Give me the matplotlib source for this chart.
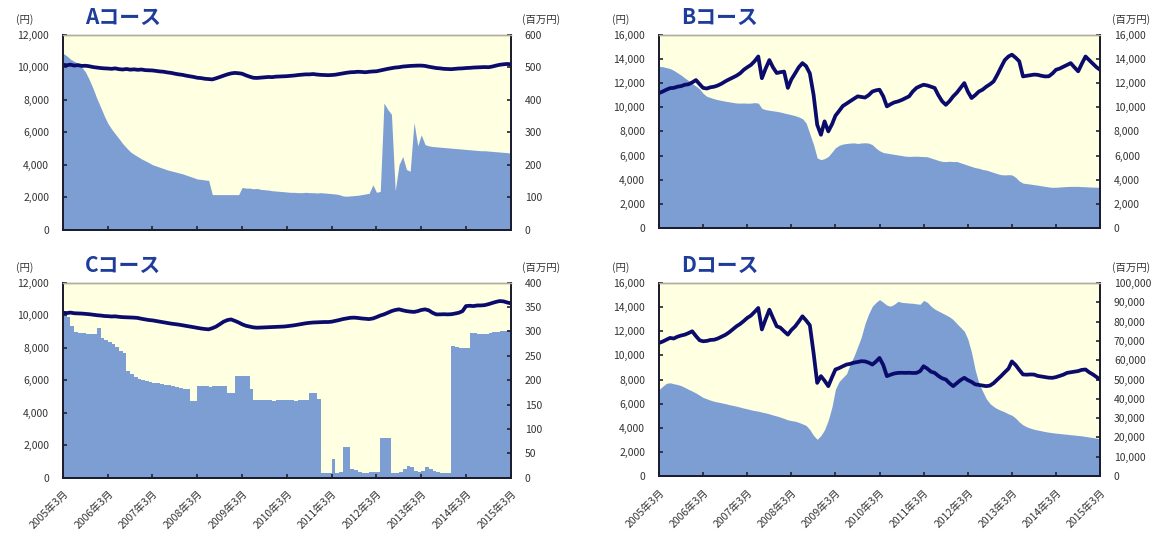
import matplotlib.pyplot as plt
import pandas as pd

plt.rcParams['font.family'] = ['Noto Sans CJK JP', 'DejaVu Sans']

# 月次データ 2005年3月〜2015年3月
dates = pd.date_range('2005-03-01', periods=121, freq='MS')
tick_years = list(range(2005, 2016))
tick_labels = [f'{y}年3月' for y in tick_years]

# Aコース: 基準価額(円) / 純資産(百万円)
a_price = [10150, 10120, 10160, 10100, 10130, 10080, 10090, 10060, 10010, 9980, 9950, 9930,
           9920, 9900, 9930, 9880, 9860, 9890, 9850, 9870, 9840, 9860, 9820, 9810,
           9800, 9770, 9740, 9720, 9680, 9650, 9600, 9560, 9530, 9480, 9440, 9400,
           9350, 9330, 9290, 9270, 9250, 9320, 9400, 9480, 9560, 9620, 9650, 9630,
           9600, 9500, 9420, 9350, 9340, 9360, 9380, 9400, 9390, 9420, 9430, 9440,
           9450, 9470, 9490, 9520, 9540, 9560, 9560, 9580, 9550, 9530, 9520, 9510,
           9520, 9540, 9580, 9620, 9660, 9690, 9700, 9720, 9710, 9690, 9720, 9740,
           9750, 9800, 9850, 9900, 9940, 9980, 10000, 10040, 10060, 10080, 10090, 10100,
           10100, 10080, 10030, 9990, 9950, 9930, 9900, 9890, 9880, 9900, 9920, 9930,
           9950, 9960, 9980, 9990, 10000, 10010, 10000, 10040, 10100, 10150, 10180, 10200, 10180]
a_assets = [543, 535, 525, 518, 512, 500, 485, 462, 435, 405, 378, 350,
            328, 310, 295, 280, 265, 252, 240, 232, 225, 218, 212, 206,
            200, 196, 192, 188, 184, 181, 178, 175, 172, 168, 164, 160,
            156, 155, 153, 152, 108, 108, 108, 108, 108, 108, 108, 108,
            130, 128, 128, 126, 127, 124, 123, 122, 120, 119, 118, 117,
            116, 115, 115, 114, 114, 115, 114, 114, 113, 114, 113, 112,
            111, 110, 108, 104, 103, 104, 105, 106, 108, 110, 112, 138,
            115, 118, 390, 370, 355, 120, 200, 225, 185, 180, 330, 258,
            292, 262, 258, 256, 255, 254, 253, 252, 251, 250, 249, 248,
            247, 246, 245, 244, 243, 243, 242, 241, 240, 239, 238, 237, 236]

# Bコース
b_price = [11170, 11300, 11450, 11580, 11600, 11700, 11750, 11860, 11900, 12050, 12250, 11900,
           11600, 11550, 11650, 11700, 11800, 11950, 12140, 12300, 12450, 12600, 12800, 13100,
           13300, 13500, 13800, 14200, 12400, 13200, 13900, 13300, 12830, 12900, 12950, 11600,
           12300, 12800, 13300, 13650, 13400, 12800, 11030, 8550, 7720, 8830, 8000, 8600,
           9300, 9700, 10100, 10300, 10500, 10700, 10900, 10850, 10800, 11000, 11300, 11400,
           11450, 10900, 10070, 10250, 10400, 10480, 10600, 10750, 10900, 11300, 11600, 11750,
           11860, 11800, 11700, 11590, 11000, 10500, 10200, 10500, 10900, 11200, 11600, 12000,
           11300, 10760, 11000, 11300, 11450, 11700, 11900, 12140, 12700, 13300, 13900, 14200,
           14350, 14100, 13800, 12550, 12600, 12650, 12700, 12680, 12600, 12550, 12560, 12800,
           13100, 13200, 13350, 13500, 13650, 13300, 12970, 13600, 14200, 13900, 13600, 13300, 13100]
b_assets = [13380, 13350, 13280, 13200, 13050, 12850, 12650, 12420, 12200, 11950, 11750, 11500,
            11150, 10900, 10800, 10700, 10620, 10560, 10500, 10450, 10400, 10350, 10340, 10350,
            10330, 10340, 10380, 10340, 9900, 9800, 9750, 9700, 9660, 9600, 9520, 9450,
            9380, 9300, 9200, 9050, 8700, 7800, 6900, 5800, 5660, 5750, 5930, 6300,
            6650, 6850, 6950, 7000, 7030, 7050, 7000, 7040, 7060, 7030, 6900, 6600,
            6400, 6250, 6200, 6150, 6100, 6050, 6000, 5950, 5930, 5940, 5950, 5930,
            5920, 5900, 5800, 5700, 5600, 5520, 5500, 5530, 5500, 5510, 5400, 5300,
            5200, 5100, 5000, 4950, 4850, 4800, 4700, 4600, 4500, 4420, 4400, 4420,
            4400, 4200, 3900, 3720, 3680, 3640, 3590, 3550, 3500, 3450, 3400, 3370,
            3380, 3400, 3420, 3440, 3450, 3450, 3450, 3430, 3420, 3400, 3390, 3380, 3370]

# Cコース
c_price = [10150, 10130, 10160, 10120, 10110, 10100, 10080, 10060, 10030, 10000, 9980, 9950,
           9940, 9920, 9930, 9900, 9880, 9870, 9860, 9850, 9830, 9780, 9740, 9700,
           9680, 9640, 9600, 9560, 9520, 9480, 9450, 9420, 9380, 9340, 9300, 9260,
           9220, 9180, 9150, 9130, 9200, 9300, 9450, 9600, 9700, 9740, 9650, 9550,
           9440, 9350, 9300, 9250, 9230, 9240, 9250, 9260, 9270, 9280, 9290, 9300,
           9320, 9350, 9380, 9420, 9460, 9500, 9530, 9550, 9560, 9570, 9580, 9580,
           9600, 9650, 9700, 9760, 9800, 9840, 9850, 9830, 9800, 9780, 9760, 9800,
           9880, 9980, 10050, 10150, 10250, 10320, 10360, 10300, 10250, 10220, 10200, 10250,
           10320, 10360, 10300, 10150, 10050, 10050, 10060, 10050, 10060, 10100, 10150, 10250,
           10560, 10580, 10560, 10600, 10600, 10620, 10680, 10750, 10820, 10870, 10850, 10780, 10730]
c_assets = [338, 330, 312, 298, 297, 296, 295, 294, 294, 308, 287, 283,
            279, 275, 268, 260, 256, 219, 212, 206, 202, 200, 198, 196,
            195, 194, 193, 191, 190, 188, 186, 184, 182, 181, 157, 157,
            188, 188, 188, 187, 188, 189, 188, 188, 174, 174, 209, 209,
            209, 209, 181, 160, 159, 159, 160, 159, 158, 160, 159, 159,
            160, 159, 158, 160, 159, 159, 174, 174, 161, 10, 10, 10,
            38, 10, 11, 62, 62, 17, 15, 12, 10, 10, 11, 12,
            12, 82, 82, 82, 10, 10, 12, 18, 24, 22, 14, 12,
            14, 21, 18, 14, 12, 10, 10, 10, 270, 268, 267, 267,
            267, 297, 296, 295, 294, 294, 296, 298, 299, 300, 301, 303, 304]

# Dコース
d_price = [11030, 11150, 11300, 11450, 11400, 11550, 11650, 11720, 11850, 12000, 11600, 11250,
           11170, 11200, 11280, 11300, 11400, 11550, 11700, 11900, 12150, 12400, 12600, 12850,
           13100, 13300, 13600, 13930, 12150, 13000, 13790, 13100, 12410, 12300, 12000, 11720,
           12100, 12400, 12800, 13240, 12900, 12500, 10200, 7720, 8280, 7900, 7450, 8200,
           8830, 8950, 9100, 9240, 9300, 9400, 9450, 9520, 9500, 9400, 9240, 9500,
           9790, 9200, 8280, 8400, 8500, 8550, 8560, 8550, 8560, 8540, 8550, 8700,
           9100, 8900, 8650, 8550, 8300, 8100, 8000, 7700, 7450, 7700, 7950, 8140,
           7950, 7800, 7600, 7550, 7500, 7450, 7500, 7700, 8000, 8280, 8600, 8900,
           9500, 9200, 8800, 8420, 8400, 8420, 8410, 8300, 8250, 8200, 8150, 8140,
           8200, 8300, 8400, 8550, 8600, 8650, 8700, 8800, 8830, 8600, 8420, 8200, 8000]
d_assets = [44800, 46500, 48000, 48300, 47800, 47400, 46800, 45900, 44900, 44000, 43000, 41800,
            40700, 40000, 39300, 38700, 38300, 37900, 37500, 37000, 36600, 36200, 35700, 35200,
            34800, 34300, 33900, 33600, 33100, 32700, 32200, 31600, 31100, 30500, 29800, 29100,
            28700, 28400, 27800, 27000, 26200, 24000, 21000, 19000, 21000, 24000, 29000, 36000,
            45000, 49000, 51000, 53000, 58000, 62000, 67000, 72000, 79000, 84000, 88000, 90000,
            91400, 90000, 88500, 88000, 89000, 90500, 90000, 89800, 89600, 89500, 89200, 89000,
            91000, 90000, 88000, 86500, 85500, 84500, 83500, 82500, 81000, 79000, 77000, 75000,
            71000, 64000, 55000, 48000, 44000, 40000, 37500, 36000, 34800, 34000, 33200, 32200,
            31500, 30000, 28000, 26500, 25500, 24800, 24200, 23800, 23400, 23000, 22700, 22400,
            22200, 22000, 21800, 21600, 21400, 21200, 21000, 20800, 20500, 20200, 19900, 19600, 19300]

BG = '#FFFFE2'
FILL = '#7C9ED2'
LINE = '#0B0B6B'
TITLE = '#1E3C9A'
TXT = '#333333'

fig = plt.figure(figsize=(11.73, 5.45), dpi=100)

panels = [
    # タイトル, 基準価額, 純資産, 左軸(max, step), 右軸(max, step), 位置, x軸ラベル, 段差描画
    ('Aコース', a_price, a_assets, (12000, 2000), (600, 100), [0.0537, 0.5785, 0.3817, 0.3578], False, None),
    ('Bコース', b_price, b_assets, (16000, 2000), (16000, 2000), [0.5618, 0.5815, 0.3760, 0.3548], False, None),
    ('Cコース', c_price, c_assets, (12000, 2000), (400, 50), [0.0537, 0.1235, 0.3817, 0.3578], True, 'post'),
    ('Dコース', d_price, d_assets, (16000, 2000), (100000, 10000), [0.5618, 0.1266, 0.3760, 0.3541], True, None),
]

for title, price, assets, (lmax, lstep), (rmax, rstep), pos, show_x, step in panels:
    ax = fig.add_axes(pos)
    ax2 = ax.twinx()

    # 純資産は右軸、基準価額は左軸(前面)
    ax2.fill_between(dates, assets, 0, step=step, color=FILL, linewidth=0)
    ax.plot(dates, price, color=LINE, linewidth=2.7)
    ax.set_zorder(ax2.get_zorder() + 1)
    ax.patch.set_visible(False)
    ax2.patch.set_visible(True)
    ax2.patch.set_facecolor(BG)

    ax.set_xlim(dates[0], dates[-1])
    ax.set_ylim(0, lmax)
    ax2.set_ylim(0, rmax)
    ax.set_yticks(range(0, lmax + 1, lstep))
    ax2.set_yticks(range(0, rmax + 1, rstep))
    ax.set_yticklabels([f'{v:,}' for v in range(0, lmax + 1, lstep)])
    ax2.set_yticklabels([f'{v:,}' for v in range(0, rmax + 1, rstep)])

    ticks = [pd.Timestamp(f'{y}-03-01') for y in tick_years]
    ax.set_xticks(ticks)
    if show_x:
        ax.set_xticklabels(tick_labels, rotation=45, ha='right', rotation_mode='anchor',
                           fontsize=8)
    else:
        ax.set_xticklabels([])

    for a in (ax, ax2):
        a.tick_params(direction='in', length=3, width=1.2, color='#222233',
                      labelsize=7.5, labelcolor=TXT, pad=10)
        for side in ('left', 'right', 'bottom'):
            a.spines[side].set_color('#1c1c30')
            a.spines[side].set_linewidth(1.3)
        a.spines['top'].set_color('#b0ae9c')
        a.spines['top'].set_linewidth(1.0)
    ax.tick_params(axis='x', pad=8)

    x0, y0, w, h = pos
    top = y0 + h
    fig.text(x0 - 0.040, top + 0.022, '(円)', fontsize=7.5, color=TXT)
    fig.text(x0 + w + 0.010, top + 0.022, '(百万円)', fontsize=7.5, color=TXT)
    fig.text(x0 + 0.019, top + 0.020, title, fontsize=15, fontweight='bold', color=TITLE)

fig.savefig('out.png', dpi=100)
